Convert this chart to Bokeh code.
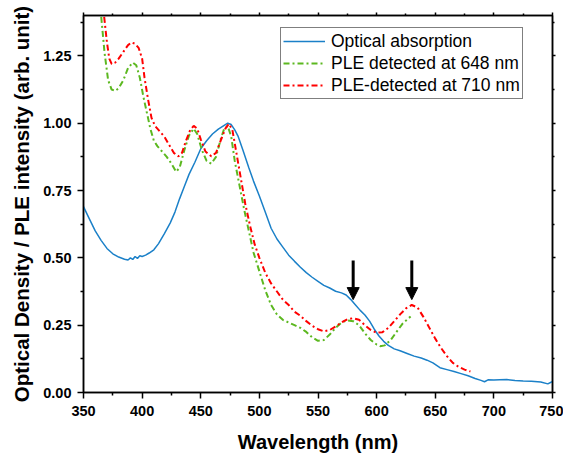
from bokeh.plotting import figure
from bokeh.models import (Range1d, FixedTicker, NumeralTickFormatter, LinearAxis,
                          CustomJSTickFormatter, Arrow, NormalHead, Legend, LegendItem)
from bokeh.embed import file_html
from bokeh.resources import INLINE

# ---------------- data ----------------
abs_x = [350, 355, 360, 365, 370, 375, 380, 385, 388, 390, 392, 394, 396, 398, 400, 403, 406, 410,
         414, 419, 424, 428, 432, 436, 440, 445, 450, 455, 460, 465, 470, 473, 476, 479, 482, 486,
         491, 495, 500, 505, 510, 515, 520, 525, 530, 535, 540, 545, 550, 555, 560, 565, 570, 574,
         578, 582, 586, 590, 594, 598, 602, 606, 610, 615, 620, 626, 632, 638, 643, 648, 654, 660,
         666, 672, 678, 684, 689, 692, 695, 700, 705, 711, 718, 725, 732, 740, 746, 750]
abs_y = [0.69, 0.645, 0.60, 0.565, 0.535, 0.515, 0.503, 0.495, 0.492, 0.50, 0.494, 0.505, 0.498,
         0.508, 0.505, 0.51, 0.518, 0.53, 0.553, 0.59, 0.63, 0.67, 0.72, 0.765, 0.81, 0.855, 0.905,
         0.935, 0.96, 0.978, 0.992, 1.0, 0.995, 0.975, 0.95, 0.90, 0.835, 0.785, 0.73, 0.67, 0.61,
         0.57, 0.54, 0.51, 0.487, 0.465, 0.445, 0.428, 0.413, 0.398, 0.388, 0.376, 0.37, 0.362,
         0.345, 0.325, 0.305, 0.288, 0.265, 0.235, 0.21, 0.19, 0.175, 0.162, 0.155, 0.145, 0.135,
         0.128, 0.12, 0.11, 0.092, 0.085, 0.078, 0.07, 0.062, 0.052, 0.045, 0.04, 0.047, 0.046,
         0.047, 0.048, 0.045, 0.043, 0.042, 0.039, 0.032, 0.041]

ple648_x = [362, 365, 368, 371, 374, 377, 380, 384, 388, 392, 395, 398, 401, 404, 407, 410, 413,
            417, 421, 425, 429, 432, 436, 440, 444, 447, 451, 455, 459, 463, 467, 470, 473, 476,
            479, 483, 487, 491, 495, 500, 505, 510, 515, 520, 525, 530, 535, 540, 545, 550, 555,
            560, 565, 570, 575, 580, 585, 590, 595, 600, 603, 607, 612, 617, 622, 627, 629]
ple648_y = [1.55, 1.40, 1.26, 1.16, 1.125, 1.12, 1.13, 1.16, 1.205, 1.225, 1.215, 1.17, 1.10,
            1.04, 0.98, 0.935, 0.915, 0.895, 0.875, 0.85, 0.82, 0.835, 0.90, 0.955, 0.98, 0.96,
            0.90, 0.86, 0.85, 0.875, 0.94, 0.98, 0.99, 0.95, 0.86, 0.77, 0.68, 0.60, 0.52, 0.45,
            0.38, 0.325, 0.29, 0.27, 0.26, 0.25, 0.24, 0.225, 0.205, 0.192, 0.195, 0.215, 0.24,
            0.26, 0.268, 0.265, 0.25, 0.22, 0.195, 0.178, 0.172, 0.175, 0.195, 0.225, 0.255,
            0.275, 0.282]

ple710_x = [364, 367, 370, 372, 374, 377, 380, 384, 388, 391, 394, 397, 400, 402, 405, 408, 411,
            415, 419, 423, 427, 431, 434, 437, 441, 444, 447, 450, 454, 459, 463, 467, 471, 474,
            477, 480, 484, 488, 492, 496, 500, 505, 510, 515, 520, 525, 530, 535, 540, 545, 550,
            555, 560, 565, 570, 575, 580, 585, 590, 595, 600, 605, 610, 615, 620, 625, 630, 635,
            640, 645, 650, 655, 660, 665, 670, 675, 680]
ple710_y = [1.55, 1.42, 1.30, 1.24, 1.22, 1.225, 1.24, 1.265, 1.29, 1.30, 1.295, 1.28, 1.24,
            1.17, 1.09, 1.02, 0.99, 0.97, 0.95, 0.92, 0.89, 0.877, 0.89, 0.93, 0.975, 0.99, 0.98,
            0.94, 0.895, 0.877, 0.89, 0.935, 0.98, 0.998, 0.975, 0.90, 0.80, 0.70, 0.62, 0.55,
            0.50, 0.445, 0.405, 0.375, 0.345, 0.325, 0.30, 0.285, 0.265, 0.248, 0.235, 0.227,
            0.232, 0.245, 0.26, 0.272, 0.276, 0.27, 0.25, 0.232, 0.222, 0.224, 0.24, 0.265, 0.29,
            0.312, 0.325, 0.315, 0.28, 0.24, 0.20, 0.165, 0.135, 0.11, 0.095, 0.085, 0.078]

arrow_x = [580, 630]
arrow_top = [0.49, 0.49]
arrow_tip = [0.345, 0.345]

x_ticks = [350, 400, 450, 500, 550, 600, 650, 700, 750]
x_minor = [375, 425, 475, 525, 575, 625, 675, 725]
y_ticks = [0.0, 0.25, 0.5, 0.75, 1.0, 1.25]
y_minor = [0.125, 0.375, 0.625, 0.875, 1.125, 1.375]

labels = ["Optical absorption", "PLE detected at 648 nm", "PLE-detected at 710 nm"]
x_title = "Wavelength (nm)"
y_title = "Optical Density / PLE intensity (arb. unit)"

# ---------------- figure ----------------
FONT = "Liberation Sans"
p = figure(width=563, height=455, output_backend="svg", toolbar_location=None,
           x_range=Range1d(350, 750), y_range=Range1d(0, 1.4),
           min_border_left=83, min_border_right=11, min_border_top=15, min_border_bottom=63)
p.xgrid.visible = False
p.ygrid.visible = False
p.outline_line_color = "black"
p.outline_line_width = 1.5
p.background_fill_color = "white"
p.border_fill_color = "white"

xt = FixedTicker(ticks=x_ticks, minor_ticks=x_minor)
yt = FixedTicker(ticks=y_ticks, minor_ticks=y_minor)

for ax in p.xaxis:
    ax.ticker = xt
for ax in p.yaxis:
    ax.ticker = yt
    ax.formatter = NumeralTickFormatter(format="0.00")

def style_axis(ax, title_size="20px"):
    ax.axis_line_width = 1.5
    ax.axis_line_color = "black"
    ax.major_tick_line_width = 1.5
    ax.minor_tick_line_width = 1.5
    ax.major_tick_line_color = "black"
    ax.minor_tick_line_color = "black"
    ax.major_tick_in = 0
    ax.minor_tick_in = 0
    ax.major_tick_out = 6
    ax.minor_tick_out = 3
    ax.major_label_text_font = FONT
    ax.major_label_text_font_style = "bold"
    ax.major_label_text_font_size = "14.5px"
    ax.major_label_text_color = "black"
    ax.axis_label_text_font = FONT
    ax.axis_label_text_font_style = "bold"
    ax.axis_label_text_font_size = title_size
    ax.axis_label_text_color = "black"

style_axis(p.xaxis[0], "20px")
style_axis(p.yaxis[0], "20.5px")
p.xaxis[0].axis_label = x_title
p.yaxis[0].axis_label = y_title
p.xaxis[0].major_label_standoff = 7
p.xaxis[0].axis_label_standoff = 12
p.yaxis[0].major_label_standoff = 6
p.yaxis[0].axis_label_standoff = 7

blank = CustomJSTickFormatter(code="return ''")
top = LinearAxis(ticker=xt, formatter=blank)
right = LinearAxis(ticker=yt, formatter=blank)
for ax in (top, right):
    style_axis(ax)
    ax.major_tick_out = 3
    ax.minor_tick_out = 2
    ax.major_label_standoff = 0
    ax.major_label_text_font_size = "1px"
p.add_layout(top, "above")
p.add_layout(right, "right")

r_abs = p.line(abs_x, abs_y, line_color="#1b80c8", line_width=1.5)
r_648 = p.line(ple648_x, ple648_y, line_color="#5cb820", line_width=2, line_dash="6 3 2 3")
r_710 = p.line(ple710_x, ple710_y, line_color="#ff0000", line_width=2, line_dash="6 3 2 3")

for xa, yt0, yt1 in zip(arrow_x, arrow_top, arrow_tip):
    p.add_layout(Arrow(end=NormalHead(size=12, fill_color="black", line_color="black", line_width=1),
                       x_start=xa, y_start=yt0, x_end=xa, y_end=yt1,
                       line_width=3, line_color="black"))

legend = Legend(items=[LegendItem(label=labels[0], renderers=[r_abs]),
                       LegendItem(label=labels[1], renderers=[r_648]),
                       LegendItem(label=labels[2], renderers=[r_710])],
                location=(197, 293))
legend.border_line_color = "black"
legend.border_line_width = 1
legend.background_fill_color = "white"
legend.background_fill_alpha = 1
legend.padding = 2
legend.spacing = 0
legend.margin = 0
legend.glyph_width = 42
legend.glyph_height = 22
legend.label_height = 22
legend.label_standoff = 6
legend.label_text_font = FONT
legend.label_text_font_size = "17.5px"
legend.label_text_color = "black"
p.add_layout(legend, "center")

open("out.html", "w").write(file_html(p, INLINE))
